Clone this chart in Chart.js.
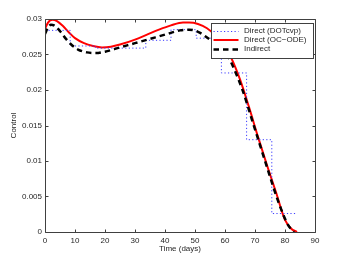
<!DOCTYPE html>
<html><head><meta charset="utf-8">
<script src="https://cdn.jsdelivr.net/npm/chart.js@4/dist/chart.umd.min.js"></script>
<style>html,body{margin:0;padding:0;background:#fff;}#wrap{width:348px;height:261px;}</style>
</head><body><div id="wrap"><canvas id="c" width="348" height="261"></canvas></div>
<script>
const seriesNames = ['Direct (DOTcvp)', 'Direct (OC\u2212ODE)', 'Indirect'];

const dotcvpTime = [0, 8.4, 16.8, 25.2, 33.6, 42, 50.4, 58.8, 67.2, 75.6, 84];
const dotcvpControl = [0.0284, 0.0262, 0.0259, 0.0259, 0.0270, 0.0285, 0.0273, 0.0224, 0.0130, 0.0026, 0.0026];

const ocodeTime = [0, 1, 2.5, 4, 6, 8, 10, 13, 16, 19, 22, 25, 30, 34, 38, 42, 46, 48, 51, 54, 57, 60, 62, 65, 68, 71, 74, 77, 80, 82, 84];
const ocodeControl = [0.0286, 0.0295, 0.0299, 0.0297, 0.0290, 0.0281, 0.0273, 0.0266, 0.0262, 0.0260, 0.0261, 0.0264, 0.0271, 0.0278, 0.0285, 0.0291, 0.0295, 0.0295, 0.0293, 0.0287, 0.0276, 0.0261, 0.0246, 0.0215, 0.0176, 0.0134, 0.0094, 0.0056, 0.0017, 0.0005, 0.0000];

const indirectTime = [0, 1, 2, 3, 5, 7, 9, 11, 14, 17, 20, 25, 30, 35, 40, 45, 48, 51, 54, 57, 59, 61, 63, 66, 69, 72, 75, 78, 81, 83];
const indirectControl = [0.0279, 0.0288, 0.0292, 0.0291, 0.0283, 0.0272, 0.0263, 0.0257, 0.0253, 0.0252, 0.0254, 0.0260, 0.0266, 0.0272, 0.0278, 0.0284, 0.0285, 0.0282, 0.0274, 0.0264, 0.0257, 0.0247, 0.0230, 0.0198, 0.0158, 0.0118, 0.0078, 0.0040, 0.0010, 0.0000];

const xTickLabels = ['0', '10', '20', '30', '40', '50', '60', '70', '80', '90'];
const yTickLabels = ['0', '0.005', '0.01', '0.015', '0.02', '0.025', '0.03'];
const xTitle = 'Time (days)';
const yTitle = 'Control';

const FONT = "'Liberation Sans', Arial, Helvetica, sans-serif";
const TXT = '#262626';
const AXC = '#404040';

function pts(t, v) { return t.map((x, i) => ({x: x, y: v[i]})); }

const framePlugin = {
  id: 'frame',
  afterDatasetsDraw(chart) {
    const {ctx, chartArea: a, scales: {x, y}} = chart;
    const L = Math.round(a.left) + 0.5, R = Math.round(a.right) + 0.5;
    const T = Math.round(a.top) + 0.5, B = Math.round(a.bottom) + 0.5;
    ctx.save();
    ctx.strokeStyle = AXC; ctx.lineWidth = 1; ctx.setLineDash([]);
    ctx.beginPath();
    ctx.rect(L, T, R - L, B - T);
    const tl = 3;
    x.ticks.forEach(tk => {
      const px = Math.round(x.getPixelForValue(tk.value)) + 0.5;
      ctx.moveTo(px, B); ctx.lineTo(px, B - tl);
      ctx.moveTo(px, T); ctx.lineTo(px, T + tl);
    });
    y.ticks.forEach(tk => {
      const py = Math.round(y.getPixelForValue(tk.value)) + 0.5;
      ctx.moveTo(L, py); ctx.lineTo(L + tl, py);
      ctx.moveTo(R, py); ctx.lineTo(R - tl, py);
    });
    ctx.stroke();
    ctx.restore();
  }
};

const legendPlugin = {
  id: 'boxLegend',
  afterDraw(chart) {
    const {ctx, chartArea: a} = chart;
    const bw = 102, bh = 35;
    const bx = Math.round(a.right) - 104 + 0.5, by = Math.round(a.top) + 4 + 0.5;
    ctx.save();
    ctx.fillStyle = '#fff';
    ctx.fillRect(bx, by, bw, bh);
    ctx.strokeStyle = AXC; ctx.lineWidth = 1; ctx.setLineDash([]);
    ctx.strokeRect(bx, by, bw, bh);
    ctx.font = '8px ' + FONT;
    ctx.textBaseline = 'middle';
    ctx.textAlign = 'left';
    const rows = [by + 7, by + 16.3, by + 25.5];
    const legendOrder = [0, 1, 2];
    legendOrder.forEach((di, i) => {
      const ds = chart.data.datasets[di];
      const ry = Math.round(rows[i]) + (ds.borderWidth % 2 ? 0.5 : 0);
      ctx.strokeStyle = ds.borderColor;
      ctx.lineWidth = ds.borderWidth;
      ctx.setLineDash(ds.borderDash || []);
      ctx.beginPath();
      ctx.moveTo(bx + 2, ry); ctx.lineTo(bx + 27, ry);
      ctx.stroke();
      ctx.fillStyle = TXT;
      ctx.fillText(seriesNames[di], bx + 32.5, rows[i]);
    });
    ctx.restore();
  }
};

new Chart(document.getElementById('c'), {
  type: 'line',
  data: {
    datasets: [
      { label: seriesNames[0], data: pts(dotcvpTime, dotcvpControl), stepped: 'before',
        borderColor: '#3c3cff', borderWidth: 1, borderDash: [1.2, 2.3], pointRadius: 0, fill: false, order: 1 },
      { label: seriesNames[1], data: pts(ocodeTime, ocodeControl), cubicInterpolationMode: 'monotone',
        borderColor: '#ff0000', borderWidth: 2, pointRadius: 0, fill: false, order: 2 },
      { label: seriesNames[2], data: pts(indirectTime, indirectControl), cubicInterpolationMode: 'monotone',
        borderColor: '#000000', borderWidth: 2.5, borderDash: [5.5, 4], pointRadius: 0, fill: false, order: 0 }
    ]
  },
  options: {
    responsive: false,
    animation: false,
    devicePixelRatio: 1,
    layout: { padding: { left: 0, right: 33, top: 19, bottom: 0 } },
    plugins: { legend: { display: false }, tooltip: { enabled: false } },
    scales: {
      x: {
        type: 'linear', min: 0, max: 90,
        grid: { display: false, drawTicks: false },
        border: { display: false },
        ticks: { stepSize: 10, autoSkip: false, maxRotation: 0, padding: 4, color: TXT,
                 font: { family: FONT, size: 8 },
                 callback: (v, i) => xTickLabels[i] },
        title: { display: true, text: xTitle, color: TXT, font: { family: FONT, size: 8 }, padding: { top: 0, bottom: 7 } },
        afterFit: s => { s.height = 29; }
      },
      y: {
        type: 'linear', min: 0, max: 0.03,
        grid: { display: false, drawTicks: false },
        border: { display: false },
        ticks: { stepSize: 0.005, autoSkip: false, padding: 3, color: TXT,
                 font: { family: FONT, size: 8 },
                 callback: (v, i) => yTickLabels[i] },
        title: { display: true, text: yTitle, color: TXT, font: { family: FONT, size: 8 }, padding: { top: 9, bottom: 0 } },
        afterFit: s => { s.width = 45; }
      }
    }
  },
  plugins: [framePlugin, legendPlugin]
});
</script></body></html>
